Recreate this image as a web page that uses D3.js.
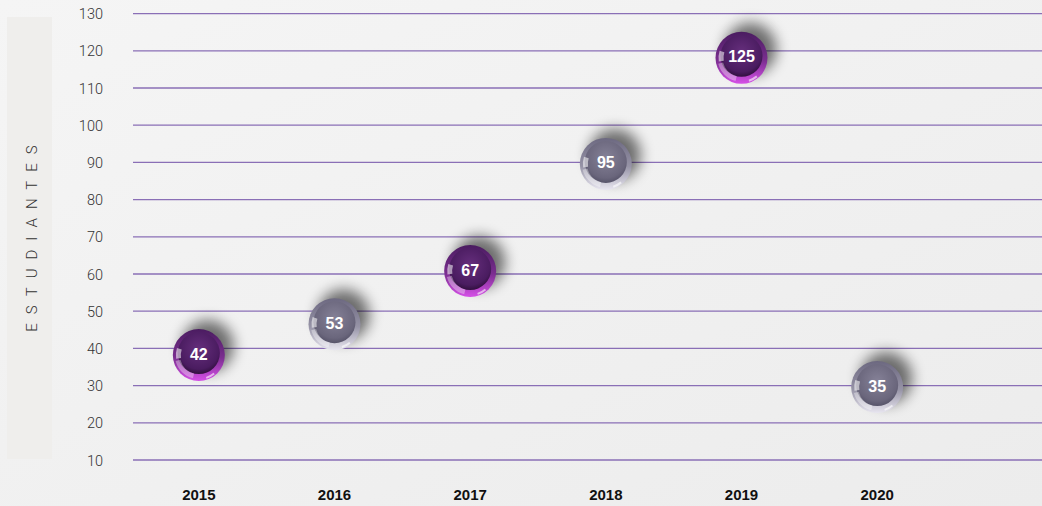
<!DOCTYPE html>
<html>
<head>
<meta charset="utf-8">
<script src="https://cdn.jsdelivr.net/npm/d3@7"></script>
<style>
  html, body { margin: 0; padding: 0; background: #f2f2f2; }
  svg { display: block; }
</style>
</head>
<body>
<div id="chart"></div>
<script>
// ---- data ----
const years = ["2015", "2016", "2017", "2018", "2019", "2020"];
const labels = [42, 53, 67, 95, 125, 35];            // value printed on each bubble
const plotted = [38.2, 46.5, 60.8, 89.6, 118.1, 29.6]; // vertical position
const styles = ["purple", "gray", "purple", "gray", "purple", "gray"];
const yTicks = [10, 20, 30, 40, 50, 60, 70, 80, 90, 100, 110, 120, 130];
const yTitle = "ESTUDIANTES";

const W = 1042, H = 506;
const svg = d3.select("#chart").append("svg").attr("width", W).attr("height", H);
const defs = svg.append("defs");

// background
const bg = defs.append("linearGradient").attr("id", "bg")
  .attr("x1", "0").attr("y1", "0").attr("x2", "1").attr("y2", "1");
bg.append("stop").attr("offset", "0").attr("stop-color", "#f5f5f5");
bg.append("stop").attr("offset", "1").attr("stop-color", "#ececec");
svg.append("rect").attr("width", W).attr("height", H).attr("fill", "url(#bg)");

// y-title panel
svg.append("rect").attr("x", 7).attr("y", 17).attr("width", 45).attr("height", 442)
  .attr("fill", "#efeeec");

// scales
const y = d3.scaleLinear().domain([10, 130]).range([460, 13.6]);
const x = d3.scaleBand().domain(years).range([131, 945]).padding(0);

// y tick labels via axis
const yAxis = d3.axisLeft(y).tickValues(yTicks).tickSize(0).tickPadding(0);
const gy = svg.append("g").attr("transform", "translate(103,0)").call(yAxis);
gy.select(".domain").remove();
gy.selectAll("text")
  .attr("font-family", "Roboto, 'Liberation Sans', sans-serif")
  .attr("font-weight", 300)
  .attr("font-size", 14.5).attr("fill", "#333").attr("dy", "0.35em");

// grid lines
svg.append("g").selectAll("line").data(yTicks).join("line")
  .attr("x1", 133).attr("x2", W)
  .attr("y1", d => y(d)).attr("y2", d => y(d))
  .attr("stroke", "#8a6fb6").attr("stroke-width", 1.3);

// x axis labels
const xAxis = d3.axisBottom(x).tickSize(0).tickPadding(0);
const gx = svg.append("g").attr("transform", "translate(0,489)").call(xAxis);
gx.select(".domain").remove();
gx.selectAll("text")
  .attr("font-family", "'Liberation Sans', Arial, sans-serif")
  .attr("font-weight", "bold").attr("font-size", 15).attr("fill", "#111")
  .attr("dy", "0.71em");

// y title
svg.append("text")
  .attr("transform", "translate(37,234) rotate(-90)")
  .attr("text-anchor", "middle")
  .attr("font-family", "Roboto, 'Liberation Sans', sans-serif")
  .attr("font-weight", 300)
  .attr("font-size", 15).attr("fill", "#333")
  .attr("letter-spacing", "9px")
  .text(yTitle);

// bubble gradients
const palettes = {
  purple: { rimTop: "#4a1c60", rimBot: "#d650e8", inA: "#4a1c60", inB: "#652e7c", shade: "#32103f" },
  gray:   { rimTop: "#6c6880", rimBot: "#e8e6f0", inA: "#6a667c", inB: "#858197", shade: "#57546a" }
};
Object.entries(palettes).forEach(([k, p]) => {
  const rim = defs.append("linearGradient").attr("id", "rim-" + k)
    .attr("x1", "0").attr("y1", "0").attr("x2", "0").attr("y2", "1");
  rim.append("stop").attr("offset", "0").attr("stop-color", p.rimTop);
  rim.append("stop").attr("offset", "0.55").attr("stop-color", d3.interpolateRgb(p.rimTop, p.rimBot)(0.35));
  rim.append("stop").attr("offset", "1").attr("stop-color", p.rimBot);
  const inner = defs.append("radialGradient").attr("id", "in-" + k)
    .attr("cx", "0.5").attr("cy", "0.4").attr("r", "0.6");
  inner.append("stop").attr("offset", "0").attr("stop-color", p.inB);
  inner.append("stop").attr("offset", "0.8").attr("stop-color", p.inA);
  inner.append("stop").attr("offset", "1").attr("stop-color", p.shade);
});
const blur = defs.append("filter").attr("id", "shadow")
  .attr("x", "-80%").attr("y", "-80%").attr("width", "260%").attr("height", "260%");
blur.append("feGaussianBlur").attr("stdDeviation", 7);

const R = 26;
const pts = years.map((yr, i) => ({ yr, label: labels[i], v: plotted[i], s: styles[i] }));
const g = svg.append("g").selectAll("g").data(pts).join("g")
  .attr("transform", d => `translate(${x(d.yr) + x.bandwidth() / 2},${y(d.v)})`);

g.append("circle").attr("cx", 9).attr("cy", -9).attr("r", R)
  .attr("fill", "#000").attr("opacity", 0.55).attr("filter", "url(#shadow)");
g.append("circle").attr("r", R).attr("fill", d => `url(#rim-${d.s})`);
g.append("circle").attr("cy", -2).attr("r", R - 5).attr("fill", d => `url(#in-${d.s})`);

// glossy bottom-left highlight segments
const arc = d3.arc();
g.append("path")
  .attr("d", arc({ innerRadius: R - 7, outerRadius: R - 2, startAngle: Math.PI * 1.08, endAngle: Math.PI * 1.42 }))
  .attr("fill", "#fff").attr("opacity", 0.35);
g.append("path")
  .attr("d", arc({ innerRadius: R - 8, outerRadius: R - 3, startAngle: Math.PI * 1.45, endAngle: Math.PI * 1.6 }))
  .attr("fill", "#fff").attr("opacity", 0.55);
g.append("path")
  .attr("d", arc({ innerRadius: R - 3, outerRadius: R - 1, startAngle: Math.PI * 0.78, endAngle: Math.PI * 0.9 }))
  .attr("fill", "#fff").attr("opacity", 0.6);

g.append("text")
  .attr("text-anchor", "middle").attr("dy", "0.35em").attr("y", -1)
  .attr("font-family", "'Liberation Sans', Arial, sans-serif")
  .attr("font-weight", "bold").attr("font-size", 16).attr("fill", "#fff")
  .text(d => d.label);
</script>
</body>
</html>
